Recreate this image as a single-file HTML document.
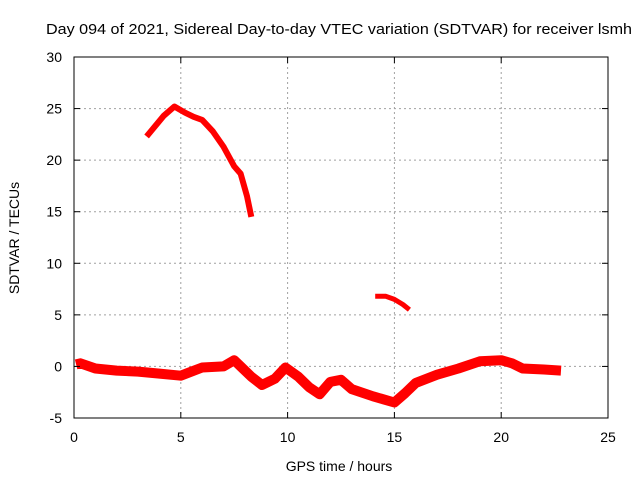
<!DOCTYPE html>
<html><head><meta charset="utf-8"><style>
body{margin:0;background:#fff}
svg{display:block;font-family:"Liberation Sans",Arial,sans-serif}
</style></head><body>
<svg id="chart" width="640" height="480">
<text x="46" y="34" font-size="15" textLength="586" lengthAdjust="spacingAndGlyphs">Day 094 of 2021, Sidereal Day-to-day VTEC variation (SDTVAR) for receiver lsmh</text>
<g id="grid"></g>
<g id="series"></g>
<rect x="74" y="57" width="534" height="361" fill="none" stroke="#000" stroke-width="1"/>
<g id="axes"></g>
<text x="339" y="471" text-anchor="middle" font-size="14">GPS time / hours</text>
<text transform="translate(19,238) rotate(-90)" text-anchor="middle" font-size="14">SDTVAR / TECUs</text>
</svg>
<script>
const xTicks=[0,5,10,15,20,25];
const yTicks=[-5,0,5,10,15,20,25,30];
const segAHours=[3.4,3.8,4.2,4.7,5.2,5.6,6.0,6.5,7.0,7.5,7.8,8.1,8.3];
const segAVals=[22.3,23.3,24.3,25.2,24.6,24.2,23.9,22.8,21.3,19.4,18.7,16.5,14.5];
const segBHours=[14.1,14.6,15.0,15.4,15.7];
const segBVals=[6.8,6.8,6.5,6.0,5.5];
const bandHours=[0.1,0.3,1,2,3,4,5,5.5,6,7,7.5,7.8,8.3,8.8,9.4,9.9,10.5,11,11.5,12,12.5,13,14,15,15.5,16,17,18,19,20,20.5,21,22,22.8];
const bandVals=[0.2,0.3,-0.2,-0.4,-0.5,-0.7,-0.9,-0.5,-0.1,0.0,0.6,0.0,-1.0,-1.8,-1.2,-0.1,-1.0,-2.0,-2.7,-1.5,-1.3,-2.2,-2.9,-3.5,-2.6,-1.6,-0.8,-0.2,0.5,0.6,0.3,-0.2,-0.3,-0.4];
const X0=74,X1=608,Y0=418,Y1=57;
const xs=v=>X0+(v-0)/(25-0)*(X1-X0);
const ys=v=>Y0-(v+5)/(35)*(Y0-Y1);
const NS="http://www.w3.org/2000/svg";
const grid=document.getElementById('grid'),axes=document.getElementById('axes'),series=document.getElementById('series');
function mk(t,a,p){const e=document.createElementNS(NS,t);for(const k in a)e.setAttribute(k,a[k]);p.appendChild(e);return e;}
xTicks.forEach(t=>{
 const x=xs(t);
 if(t>0&&t<25){const g=mk('line',{x1:x,x2:x,y1:Y1,y2:Y0,stroke:'#a0a0a0','stroke-dasharray':'2,3'},grid);
 
 }
 const tk=mk('line',{x1:x,x2:x,y1:Y0,y2:Y0-6,stroke:'#000'},axes);
 
 
 const tt=mk('line',{x1:x,x2:x,y1:Y1,y2:Y1+6,stroke:'#000'},axes);
 
 
 const l=mk('text',{x:x,y:Y0+24,'text-anchor':'middle','font-size':14},axes);l.textContent=t;
 
 
});
yTicks.forEach(t=>{
 const y=ys(t);
 if(t>-5&&t<30){const g=mk('line',{x1:X0,x2:X1,y1:y,y2:y,stroke:'#a0a0a0','stroke-dasharray':'2,3'},grid);
 
 }
 const tk=mk('line',{x1:X0,x2:X0+6,y1:y,y2:y,stroke:'#000'},axes);
 
 
 const tr=mk('line',{x1:X1,x2:X1-6,y1:y,y2:y,stroke:'#000'},axes);
 
 
 const l=mk('text',{x:X0-12,y:y+5,'text-anchor':'end','font-size':14},axes);l.textContent=t;
 
 
});
function line(h,v,w,name){
 const pts=h.map((d,i)=>xs(d).toFixed(1)+','+ys(v[i]).toFixed(1)).join(' ');
 const p=mk('polyline',{points:pts,fill:'none',stroke:'#ff0000','stroke-width':w,'stroke-linejoin':'round','stroke-linecap':'butt'},series);
 
 
}
line(segAHours,segAVals,6,'series-arc-morning');
line(segBHours,segBVals,5,'series-arc-afternoon');
line(bandHours,bandVals,10,'series-band-low');
</script>
</body></html>
